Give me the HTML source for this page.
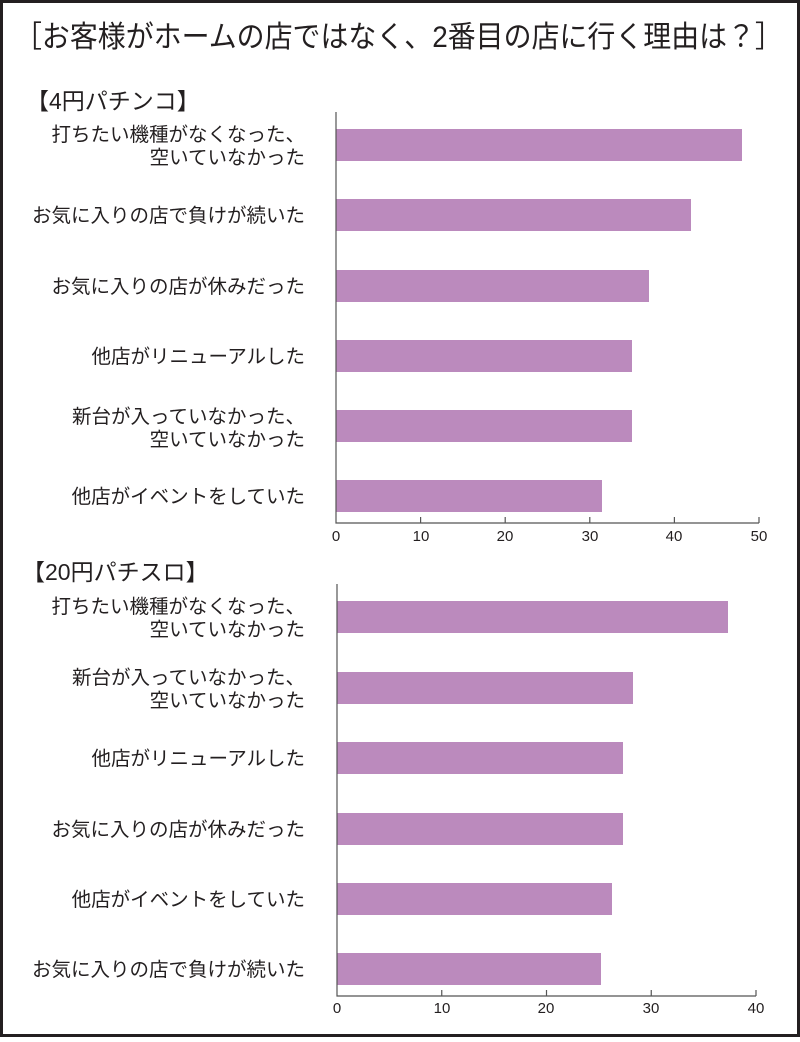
<!DOCTYPE html><html><head><meta charset="utf-8"><style>
body{margin:0;width:800px;height:1037px;background:#fff;font-family:"Liberation Sans","Noto Sans CJK JP",sans-serif;color:#231f20}
</style></head><body>
<svg width="800" height="1037" xmlns="http://www.w3.org/2000/svg" font-family="Liberation Sans, Noto Sans CJK JP, sans-serif" fill="#231f20">
<rect x="1.5" y="1.5" width="797" height="1034" fill="#fff" stroke="#231f20" stroke-width="3"/>
<text x="14" y="47" font-size="30" textLength="769" lengthAdjust="spacingAndGlyphs">［お客様がホームの店ではなく、2番目の店に行く理由は？］</text>
<text x="26" y="109" font-size="23">【4円パチンコ】</text>
<text x="22" y="580" font-size="23">【20円パチスロ】</text>
<g font-size="19.5" text-anchor="end">
<text x="305" y="141">打ちたい機種がなくなった、</text><text x="305" y="164">空いていなかった</text>
<text x="305" y="222">お気に入りの店で負けが続いた</text>
<text x="305" y="293">お気に入りの店が休みだった</text>
<text x="305" y="363">他店がリニューアルした</text>
<text x="305" y="423">新台が入っていなかった、</text><text x="305" y="446">空いていなかった</text>
<text x="305" y="503">他店がイベントをしていた</text>
<text x="305" y="613">打ちたい機種がなくなった、</text><text x="305" y="636">空いていなかった</text>
<text x="305" y="684">新台が入っていなかった、</text><text x="305" y="707">空いていなかった</text>
<text x="305" y="765">他店がリニューアルした</text>
<text x="305" y="836">お気に入りの店が休みだった</text>
<text x="305" y="906">他店がイベントをしていた</text>
<text x="305" y="976">お気に入りの店で負けが続いた</text>
</g>
<g fill="#bb8abd">
<rect x="336" y="129" width="406" height="32"/>
<rect x="336" y="199" width="355" height="32"/>
<rect x="336" y="270" width="313" height="32"/>
<rect x="336" y="340" width="296" height="32"/>
<rect x="336" y="410" width="296" height="32"/>
<rect x="336" y="480" width="266" height="32"/>
<rect x="337" y="601" width="391" height="32"/>
<rect x="337" y="672" width="296" height="32"/>
<rect x="337" y="742" width="286" height="32"/>
<rect x="337" y="813" width="286" height="32"/>
<rect x="337" y="883" width="275" height="32"/>
<rect x="337" y="953" width="264" height="32"/>
</g>
<g stroke="#555" stroke-width="1.2" fill="none">
<path d="M336 112V523H759M420.6 523v-6M505.2 523v-6M589.8 523v-6M674.4 523v-6M759 523v-6"/>
<path d="M337 584V996H756M441.75 996v-6M546.5 996v-6M651.25 996v-6M756 996v-6"/>
</g>
<g font-size="15" text-anchor="middle">
<text x="336" y="541">0</text><text x="421" y="541">10</text><text x="505" y="541">20</text><text x="590" y="541">30</text><text x="674" y="541">40</text><text x="759" y="541">50</text>
<text x="337" y="1013">0</text><text x="442" y="1013">10</text><text x="546" y="1013">20</text><text x="651" y="1013">30</text><text x="756" y="1013">40</text>
</g>
</svg>
</body></html>
